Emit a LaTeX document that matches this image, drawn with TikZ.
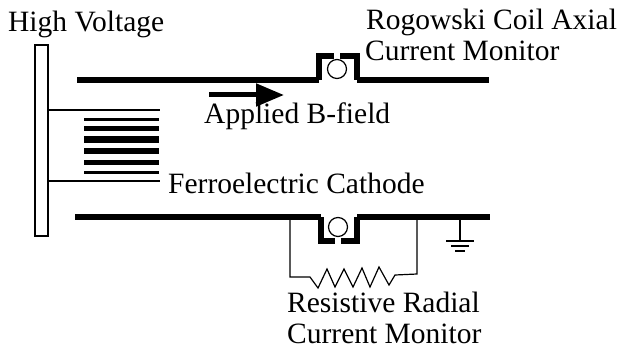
\documentclass[tikz,border=0pt]{standalone}
\usepackage{fontspec}
\setmainfont{Liberation Serif}
\usetikzlibrary{arrows.meta}
\tikzset{
  label/.style={anchor=base west,inner sep=0pt,font=\fontsize{29.5}{29.5}\selectfont},
  bar/.style={line width=6.5pt},
  coil/.style={line width=5.5pt,line join=miter},
  wire/.style={line width=1.2pt},
  monitor/.style={draw,circle,line width=1.2pt,minimum size=19pt,inner sep=0pt},
}
\begin{document}
\begin{tikzpicture}[x=1pt,y=-1pt]
            \useasboundingbox (0,0) rectangle (620,350);
            \node[label] (hv) at (8,32) {High Voltage};
            \node[label] (rogowski) at (366,30) {Rogowski Coil Axial};
            \node[label] (axial) at (365,61) {Current Monitor};
            \node[label] (field) at (204,123) {Applied B-field};
            \node[label] (cathode) at (168,193) {Ferroelectric Cathode};
            \node[label] (resistive) at (287,312) {Resistive Radial};
            \node[label] (radial) at (287,343.5) {Current Monitor};
            % high voltage plate
            \node[draw,line width=1.2pt,minimum width=13pt,minimum height=191pt,inner sep=0pt] (plate) at (41.5,140.5) {};
            % top tube
            \coordinate (tl) at (77,80);
            \coordinate (tr) at (489,80);
            \coordinate (ta) at (319,80);
            \coordinate (tb) at (357,80);
            \draw[bar] (tl) -- (ta);
            \draw[bar] (tb) -- (tr);
            \draw[coil] (ta) -- (319,56) -- (334,56);
            \draw[coil] (tb) -- (357,56) -- (340,56);
            \node[monitor] (coiltop) at (337,69) {};
            % bottom tube
            \coordinate (bl) at (75,217);
            \coordinate (br) at (490,217);
            \coordinate (ba) at (321,217);
            \coordinate (bb) at (357,217);
            \draw[bar] (bl) -- (ba);
            \draw[bar] (bb) -- (br);
            \draw[coil] (ba) -- (321,241) -- (335,241);
            \draw[coil] (bb) -- (357,241) -- (341,241);
            \node[monitor] (coilbot) at (338,227) {};
            % cathode stack
            \coordinate (wa) at (160,110);
            \coordinate (wb) at (160,181);
            \draw[wire] (plate.east |- wa) -- (wa);
            \draw[wire] (plate.east |- wb) -- (wb);
            \foreach \y/\w in {119/3,128/5,139/7,151/6,162/5,172/3} {
                \draw[line width=\w pt] (84,\y) -- (159,\y);
            }
            % field arrow
            \coordinate (fa) at (209,95);
            \coordinate (fb) at (284,95);
            \draw[line width=5pt,-{Triangle[length=28pt,width=22pt]}] (fa) -- (fb);
            % resistor
            \coordinate (ra) at (290,217);
            \coordinate (rb) at (417,217);
            \draw[wire] (ra) -- (290,277) -- (310,277) -- (318,288) -- (327,269) -- (335,287) -- (344,269)
                -- (353,287) -- (362,268) -- (370,287) -- (379,267) -- (389,285) -- (395,275) -- (417,274) -- (rb);
            % ground
            \coordinate (ga) at (460,217);
            \coordinate (gb) at (460,241);
            \draw[wire] (ga) -- (gb);
            \draw[wire] (446,241) -- (474,241);
            \draw[wire] (451,246) -- (469,246);
            \draw[wire] (455,251) -- (465,251);
\end{tikzpicture}
\end{document}
